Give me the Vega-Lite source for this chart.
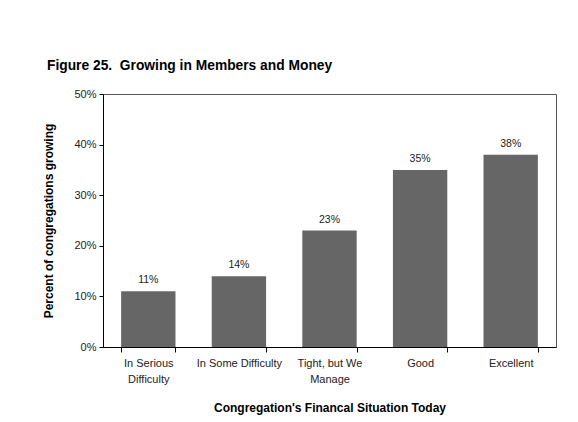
{
  "$schema": "https://vega.github.io/schema/vega-lite/v6.json",
  "autosize": "none",
  "width": 453,
  "height": 253,
  "padding": {"left": 103, "top": 94, "right": 22, "bottom": 75},
  "background": "white",
  "config": {
    "font": "Liberation Sans",
    "view": {"stroke": "#555555", "strokeWidth": 1}
  },
  "title": {
    "text": "Figure 25.\u00a0 Growing in Members and Money",
    "anchor": "start",
    "frame": "group",
    "dx": -56,
    "offset": 15,
    "fontSize": 13.8,
    "fontWeight": "bold",
    "color": "#000000",
    "font": "Liberation Sans"
  },
  "data": {
    "values": [
      {"situation": "In Serious Difficulty", "pct": 0.11},
      {"situation": "In Some Difficulty", "pct": 0.14},
      {"situation": "Tight, but We Manage", "pct": 0.23},
      {"situation": "Good", "pct": 0.35},
      {"situation": "Excellent", "pct": 0.38}
    ]
  },
  "encoding": {
    "x": {
      "field": "situation",
      "type": "nominal",
      "sort": null,
      "scale": {"paddingInner": 0.4, "paddingOuter": 0.2},
      "axis": {
        "title": "Congregation's Financal Situation Today",
        "titleFontSize": 12,
        "titleFontWeight": "bold",
        "titleColor": "#000000",
        "titlePadding": 18,
        "labelAngle": 0,
        "labelFontSize": 11,
        "labelColor": "#222222",
        "labelPadding": 5,
        "labelLineHeight": 16,
        "labelExpr": "datum.label == 'In Serious Difficulty' ? ['In Serious', 'Difficulty'] : datum.label == 'Tight, but We Manage' ? ['Tight, but We', 'Manage'] : datum.label",
        "tickBand": "extent",
        "tickSize": 5,
        "tickColor": "#000000",
        "domainColor": "#000000",
        "labelOverlap": false
      }
    },
    "y": {
      "field": "pct",
      "type": "quantitative",
      "scale": {"domain": [0, 0.5]},
      "axis": {
        "title": "Percent of congregations growing",
        "titleFontSize": 12,
        "titleFontWeight": "bold",
        "titleColor": "#000000",
        "titlePadding": 18,
        "format": ".0%",
        "values": [0, 0.1, 0.2, 0.3, 0.4, 0.5],
        "grid": false,
        "labelFontSize": 11,
        "labelColor": "#222222",
        "labelPadding": 3,
        "tickSize": 4,
        "tickColor": "#000000",
        "domainColor": "#000000"
      }
    }
  },
  "layer": [
    {"mark": {"type": "bar", "color": "#666666"}},
    {
      "mark": {"type": "text", "baseline": "alphabetic", "dy": -8, "fontSize": 10.5, "color": "#222222"},
      "encoding": {"text": {"field": "pct", "type": "quantitative", "format": ".0%"}}
    }
  ]
}
